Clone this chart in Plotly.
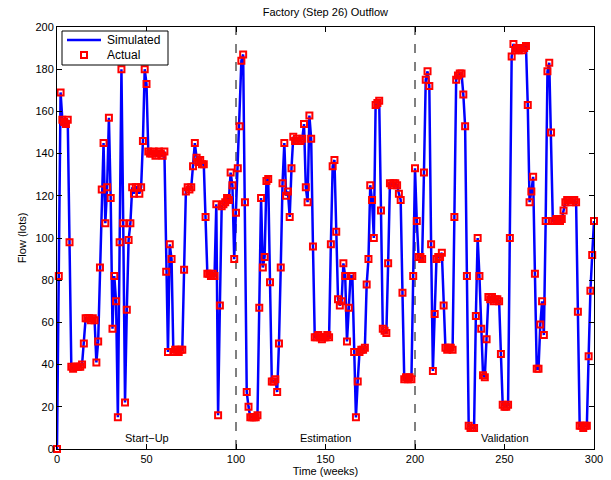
import plotly.graph_objects as go

# Weekly outflow values (lots), weeks 0..300
flow_startup = [
    0, 82, 169, 156, 155, 154, 156, 98, 39, 38,
    39, 39, 39, 39, 40, 50, 62, 62, 62, 61,
    62, 61, 41, 51, 86, 123, 145, 107, 124, 157,
    119, 57, 82, 70, 15, 98, 180, 107, 22, 66,
    99, 107, 124, 121, 124, 124, 121, 124, 146, 180,
    173, 141, 140, 140, 141, 139, 140, 141, 140, 139,
    141, 84, 46, 97, 90, 46, 47, 47, 46, 47,
    47, 85, 122, 124, 123, 124, 134, 145, 138, 136,
    137, 135, 135, 110, 83, 83, 82, 83, 82, 116,
    16, 68, 115, 116, 117, 119, 118, 131, 125, 90,
]
flow_estimation = [
    112, 133, 153, 184, 187, 117, 27, 20, 15, 15,
    15, 15, 16, 67, 119, 86, 91, 127, 128, 79,
    32, 32, 33, 27, 50, 86, 126, 145, 120, 122,
    110, 133, 148, 146, 147, 146, 146, 147, 154, 124,
    117, 158, 147, 96, 53, 53, 54, 53, 52, 53,
    53, 54, 53, 97, 134, 137, 103, 71, 68, 70,
    88, 82, 51, 67, 82, 82, 46, 15, 32, 46,
    47, 47, 48, 78, 90, 125, 118, 100, 163, 164,
    165, 113, 57, 56, 55, 88, 126, 125, 126, 126,
    125, 121, 118, 74, 33, 34, 33, 34, 33, 82,
]
flow_validation = [
    133, 108, 91, 91, 90, 131, 175, 179, 172, 97,
    37, 64, 90, 91, 91, 93, 68, 48, 47, 48,
    48, 47, 110, 175, 177, 178, 178, 168, 153, 82,
    11, 10, 10, 10, 63, 100, 82, 57, 35, 34,
    52, 72, 71, 72, 70, 71, 71, 70, 45, 21,
    20, 20, 21, 100, 186, 192, 189, 190, 189, 190,
    189, 190, 191, 163, 117, 122, 129, 83, 38, 38,
    59, 70, 54, 108, 179, 183, 150, 108, 108, 109,
    108, 108, 109, 113, 117, 118, 118, 117, 118, 118,
    117, 65, 11, 11, 10, 11, 11, 44, 75, 92,
    108,
]

actual = flow_startup + flow_estimation + flow_validation
simulated = list(actual)
weeks = list(range(len(actual)))

series_names = ["Simulated", "Actual"]
phase_bounds = [100, 200]
phase_names = ["Start\u2212Up", "Estimation", "Validation"]
phase_centers = [50, 150, 250]
phase_label_y = 5

x_ticks = [0, 50, 100, 150, 200, 250, 300]
y_ticks = list(range(0, 201, 20))

FONT = "Liberation Sans, Arial, Helvetica, sans-serif"
BLUE = "rgb(0,0,255)"
RED = "rgb(255,0,0)"

fig = go.Figure()
fig.add_trace(go.Scatter(
    x=weeks, y=simulated, mode="lines", name=series_names[0],
    line=dict(color=BLUE, width=2.5), showlegend=False,
))
fig.add_trace(go.Scatter(
    x=weeks, y=actual, mode="markers", name=series_names[1],
    marker=dict(symbol="square-open", size=6, color=RED,
                line=dict(color=RED, width=2)), showlegend=False,
    cliponaxis=False,
))

for b in phase_bounds:
    fig.add_shape(type="line", xref="x", yref="paper", x0=b, x1=b, y0=0, y1=1,
                  line=dict(color="black", width=1, dash="dash"), layer="below")

for name, cx in zip(phase_names, phase_centers):
    fig.add_annotation(x=cx, y=phase_label_y, xref="x", yref="y", text=name,
                       showarrow=False, font=dict(family=FONT, size=11, color="black"),
                       xanchor="center", yanchor="middle")

# Compact MATLAB-style legend box (paper coordinates of the plot area)
PW, PH = 537.0, 422.0          # plot-area size in px
def px(dx):
    return dx / PW
def py(dy):
    return 1 - dy / PH

fig.add_shape(type="rect", xref="paper", yref="paper",
              x0=px(5), x1=px(111), y0=py(38), y1=py(4),
              fillcolor="white", line=dict(color="black", width=1), layer="above")
fig.add_shape(type="line", xref="paper", yref="paper",
              x0=px(10), x1=px(44), y0=py(13), y1=py(13),
              line=dict(color=BLUE, width=2.5), layer="above")
fig.add_shape(type="rect", xref="paper", yref="paper",
              x0=px(27 - 3), x1=px(27 + 3), y0=py(28 + 3), y1=py(28 - 3),
              fillcolor="rgba(0,0,0,0)", line=dict(color=RED, width=2), layer="above")
for i, name in enumerate(series_names):
    fig.add_annotation(x=px(48), y=py(13 + 15 * i), xref="paper", yref="paper",
                       text=name, showarrow=False, xanchor="left", yanchor="middle",
                       font=dict(family=FONT, size=12, color="black"))

axis_common = dict(
    showline=True, linecolor="black", linewidth=1, mirror="ticks",
    ticks="inside", ticklen=5, tickwidth=1, tickcolor="black",
    showgrid=False, zeroline=False,
    tickfont=dict(family=FONT, size=11, color="black"),
)

fig.update_xaxes(range=[0, 300], tickvals=x_ticks, **axis_common,
                 title=dict(text="Time (weeks)", font=dict(family=FONT, size=11, color="black"),
                            standoff=2))
fig.update_yaxes(range=[0, 200], tickvals=y_ticks, **axis_common,
                 title=dict(text="Flow (lots)", font=dict(family=FONT, size=11, color="black"),
                            standoff=6))

fig.update_layout(
    width=611, height=480,
    margin=dict(l=57, r=17, t=27, b=31, autoexpand=False),
    paper_bgcolor="white", plot_bgcolor="white",
    title=dict(text="Factory (Step 26) Outflow", x=0.5325, xanchor="center",
               y=1 - 12 / 480, yanchor="middle", yref="container",
               font=dict(family=FONT, size=11, color="black")),
    showlegend=False,
)

fig.write_html("out.html")
